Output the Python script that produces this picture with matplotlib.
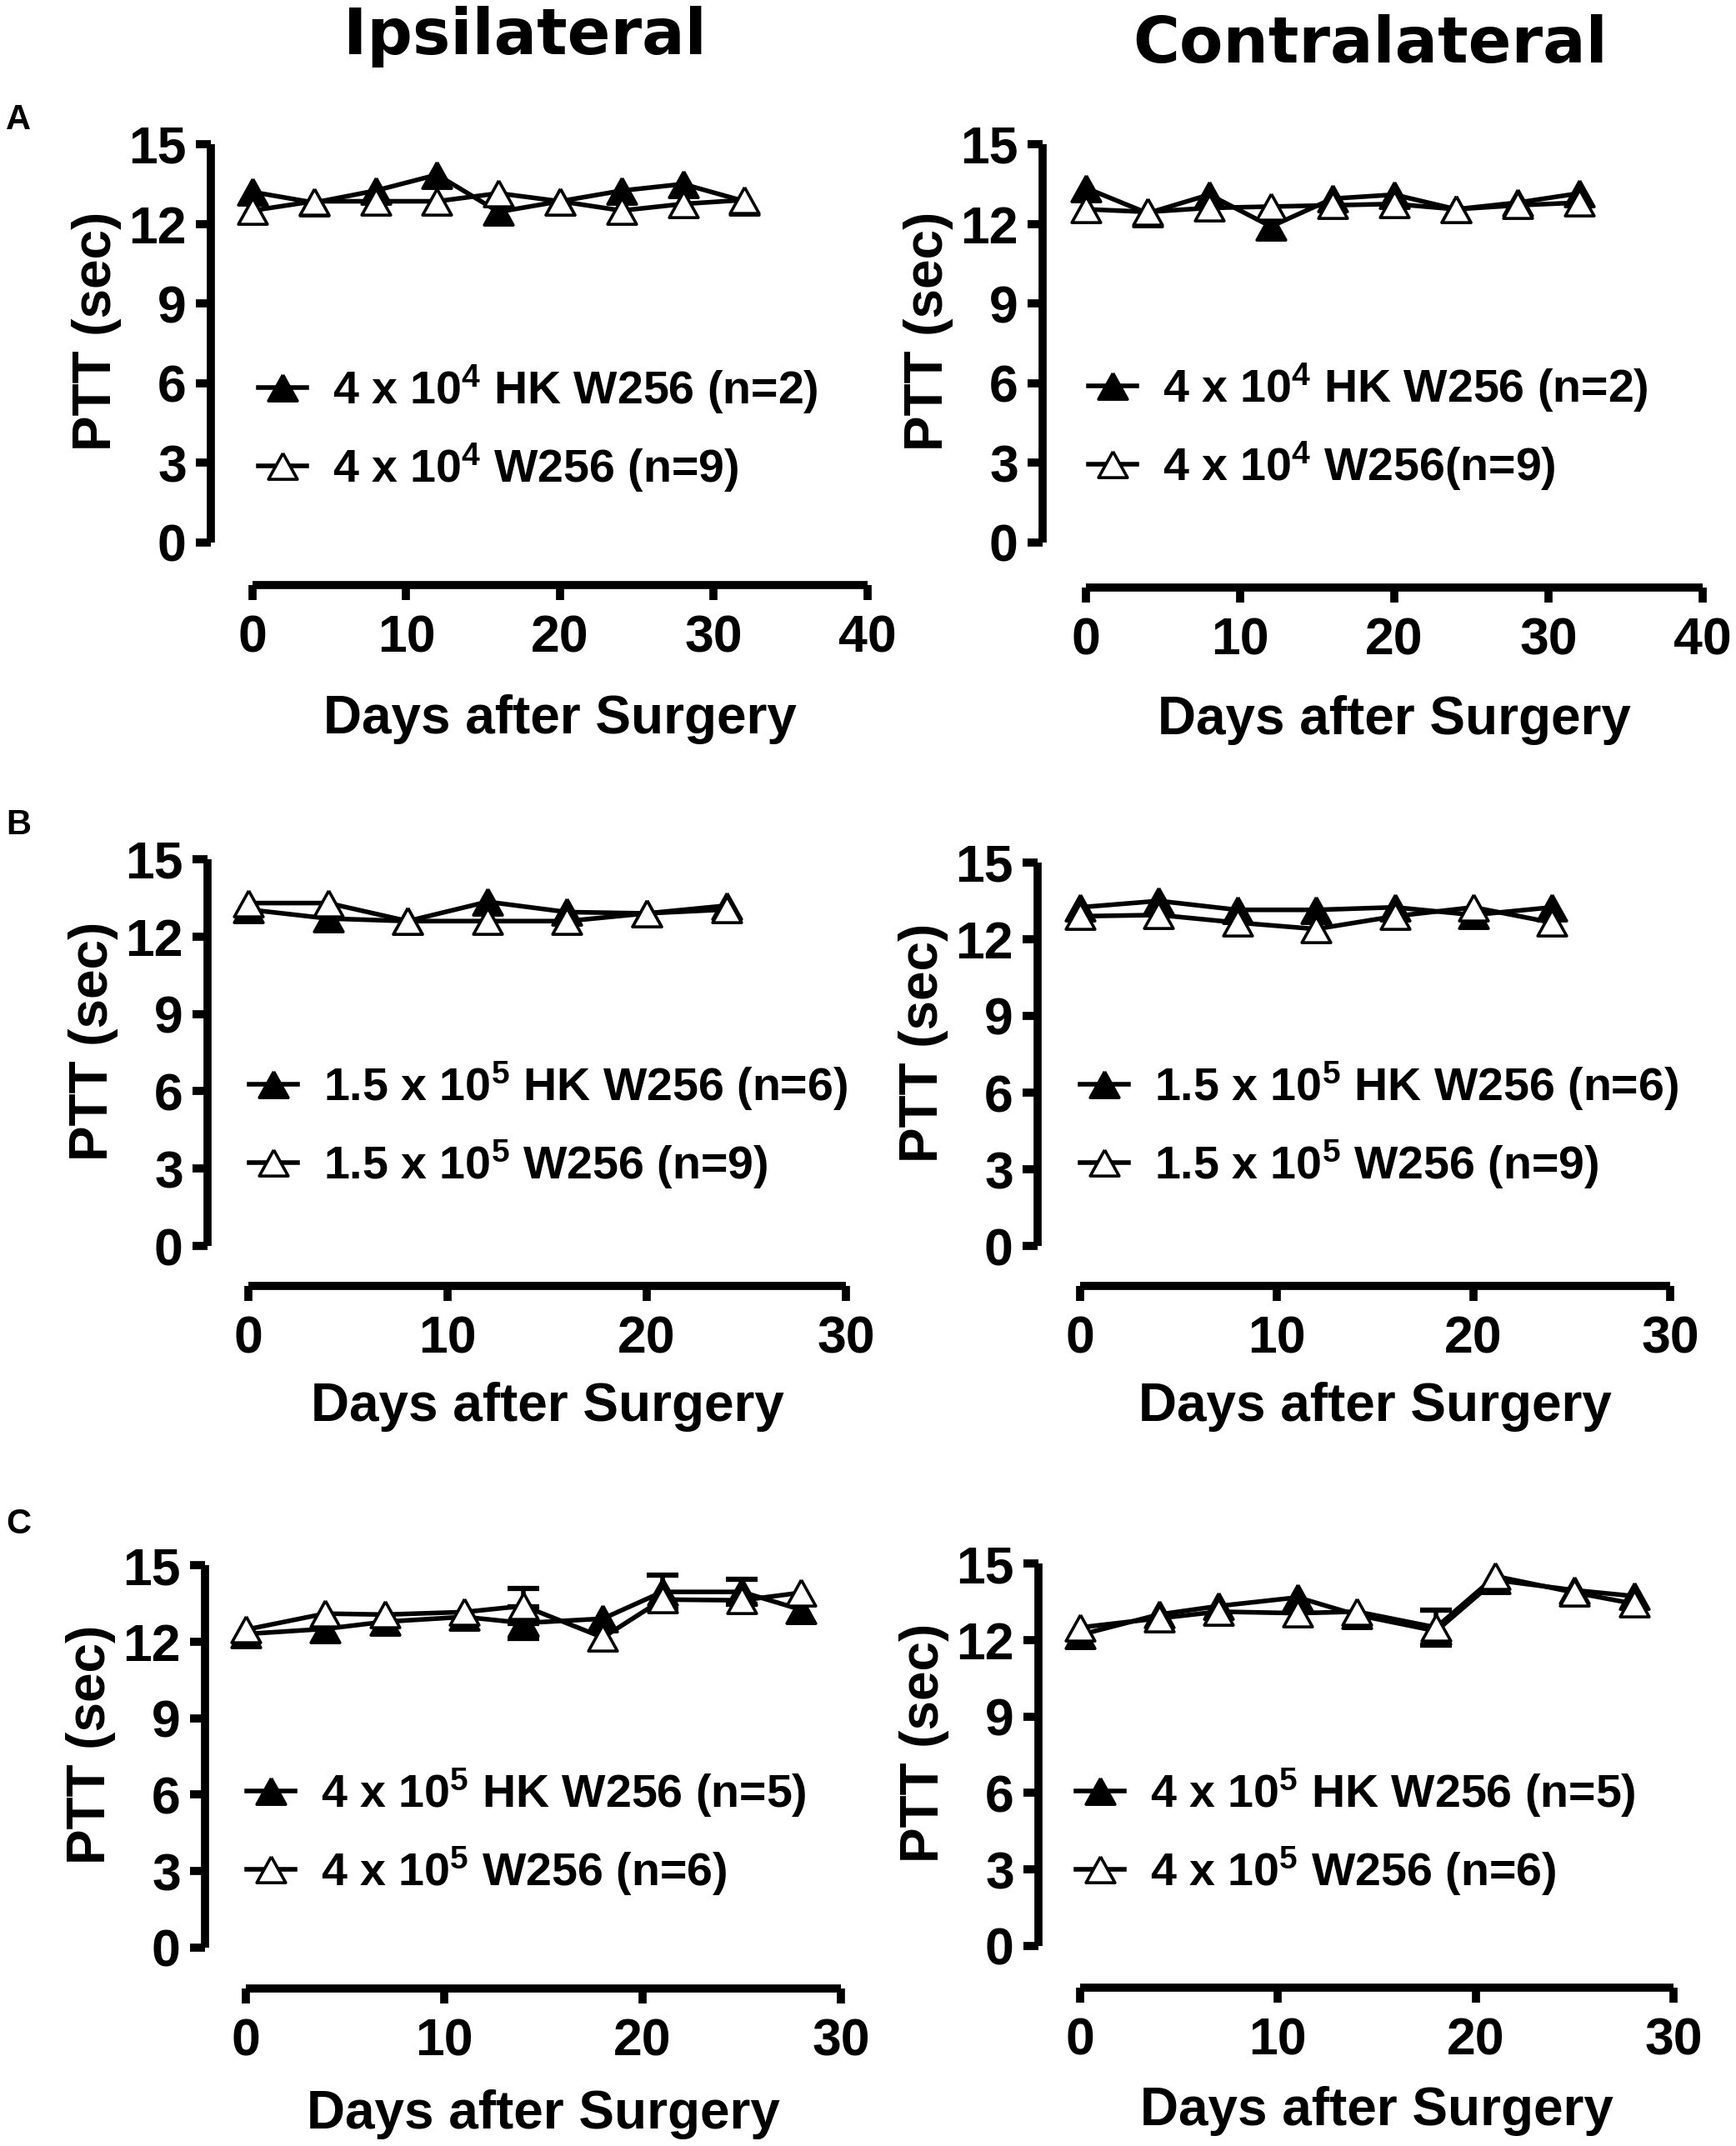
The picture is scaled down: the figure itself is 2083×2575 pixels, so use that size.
import matplotlib
matplotlib.use("Agg")
import matplotlib.pyplot as plt
import numpy as np

plt.rcParams['font.family'] = ['Liberation Sans', 'DejaVu Sans']
plt.rcParams['font.weight'] = 'bold'
plt.rcParams['mathtext.fontset'] = 'custom'
plt.rcParams['mathtext.rm'] = 'Liberation Sans:bold'
plt.rcParams['mathtext.bf'] = 'Liberation Sans:bold'
plt.rcParams['mathtext.default'] = 'bf'

# ---------------- data ----------------
days_A = [0, 4, 8, 12, 16, 20, 24, 28, 32]
days_B = [0, 4, 8, 12, 16, 20, 24]
days_C = [0, 4, 7, 11, 14, 18, 21, 25, 28]

A_ipsi_hk = [13.2, 12.8, 13.25, 13.85, 12.45, 12.85, 13.25, 13.5, 12.85]
A_ipsi_w = [12.5, 12.85, 12.85, 12.85, 13.15, 12.85, 12.5, 12.75, 12.9]
A_contra_hk = [13.35, 12.4, 13.1, 11.9, 12.95, 13.1, 12.55, 12.8, 13.15]
A_contra_w = [12.55, 12.45, 12.6, 12.65, 12.7, 12.75, 12.55, 12.7, 12.8]

B_ipsi_hk = [13.05, 12.7, 12.6, 13.35, 12.95, 12.9, 13.2]
B_ipsi_w = [13.3, 13.3, 12.6, 12.6, 12.6, 12.9, 13.05]
B_contra_hk = [13.25, 13.5, 13.15, 13.15, 13.25, 12.95, 13.25]
B_contra_w = [12.9, 12.95, 12.65, 12.4, 12.9, 13.25, 12.65]

C_ipsi_hk = [12.3, 12.5, 12.78, 12.97, 12.73, 12.9, 13.95, 13.95, 13.25]
C_ipsi_hk_err = [0, 0, 0, 0, 0.62, 0, 0.67, 0.5, 0]
C_ipsi_w = [12.47, 13.1, 13.06, 13.16, 13.4, 12.16, 13.65, 13.62, 13.92]
C_ipsi_w_err = [0, 0, 0, 0, 0.7, 0, 0, 0, 0]
C_contra_hk = [12.2, 13.0, 13.33, 13.67, 12.98, 12.35, 14.35, 13.95, 13.72]
C_contra_hk_err = [0, 0, 0, 0, 0, 0, 0, 0, 0]
C_contra_w = [12.49, 12.85, 13.11, 13.05, 13.11, 12.49, 14.5, 13.86, 13.42]
C_contra_w_err = [0, 0, 0, 0, 0, 0.68, 0, 0, 0]

labels_A_ipsi = [r"4 x 10$^{4}$ HK W256 (n=2)", r"4 x 10$^{4}$ W256 (n=9)"]
labels_A_contra = [r"4 x 10$^{4}$ HK W256 (n=2)", r"4 x 10$^{4}$ W256(n=9)"]
labels_B = [r"1.5 x 10$^{5}$ HK W256 (n=6)", r"1.5 x 10$^{5}$ W256 (n=9)"]
labels_C = [r"4 x 10$^{5}$ HK W256 (n=5)", r"4 x 10$^{5}$ W256 (n=6)"]

yticks = [0, 3, 6, 9, 12, 15]
xticks_A = [0, 10, 20, 30, 40]
xticks_BC = [0, 10, 20, 30]

# ---------------- layout (pixel geometry) ----------------
W, H = 2083, 2575
fig = plt.figure(figsize=(W / 100, H / 100), dpi=100)

FS_TICK = 45
FS_LAB = 46
FS_LEG = 40

tri = [(0, 0.9), (-1, -0.9), (1, -0.9), (0, 0.9)]


def draw_err(ax, x, y, err, z):
    xs = [a for a, e in zip(x, err) if e > 0]
    ys = [b for b, e in zip(y, err) if e > 0]
    es = [e for e in err if e > 0]
    if xs:
        eb = ax.errorbar(xs, ys, yerr=es, fmt='none', ecolor='black', elinewidth=4,
                         capsize=14, capthick=4.5, zorder=z)
        for art in list(eb[1]) + list(eb[2]):
            art.set_clip_on(False)


def panel(geom, x, hk, w, hk_err, w_err, xmax, xticks, labels, leg_px):
    left, x0, xr, top, y0, bottom = geom
    ax = fig.add_axes([left / W, 1 - bottom / H, (xr - left) / W, (bottom - top) / H])
    ax.patch.set_alpha(0)
    perx = (xr - x0) / xmax
    pery = (y0 - top) / 15.0
    ax.set_xlim(-(x0 - left) / perx, xmax)
    ax.set_ylim(-(bottom - y0) / pery, 15)
    for s in ['top', 'right']:
        ax.spines[s].set_visible(False)
    for s in ['left', 'bottom']:
        ax.spines[s].set_linewidth(7)
        ax.spines[s].set_capstyle('butt')
    ax.spines['left'].set_bounds(0, 15)
    ax.spines['bottom'].set_bounds(0, xmax)
    ax.set_yticks(yticks)
    ax.set_xticks(xticks)
    ax.tick_params(axis='both', which='major', length=13, width=7, direction='out',
                   labelsize=FS_TICK)
    ax.tick_params(axis='y', pad=8)
    ax.tick_params(axis='x', pad=12)
    for t in ax.get_xticklabels() + ax.get_yticklabels():
        t.set_fontweight('bold')

    common = dict(color='black', lw=4.0, marker=tri, ms=25, mew=2.6, mec='black',
                  clip_on=False)
    draw_err(ax, x, hk, hk_err, 2)
    l1, = ax.plot(x, hk, mfc='black', zorder=3, **common)
    draw_err(ax, x, w, w_err, 3.5)
    l2, = ax.plot(x, w, mfc='white', zorder=4, **common)

    lx, ly = leg_px
    ax.legend(handles=[l1, l2], labels=labels, loc='center left',
              bbox_to_anchor=((lx - left) / (xr - left), (bottom - ly) / (bottom - top)),
              frameon=False, handlelength=1.05, handletextpad=0.55,
              labelspacing=0.55, borderpad=0, borderaxespad=0, numpoints=1,
              prop={'weight': 'bold', 'size': FS_LEG})

    ax.set_xlabel("Days after Surgery", fontsize=FS_LAB, fontweight='bold')
    ax.set_ylabel("PTT (sec)", fontsize=FS_LAB, fontweight='bold')
    return ax, geom


def place_labels(ax, geom, xlab_base_off, ylab_off=137, ylab_data=7.95):
    left, x0, xr, top, y0, bottom = geom
    pery = (y0 - top) / 15.0
    xc = ((x0 + xr) / 2 - left) / (xr - left)
    yb = (bottom - (bottom + xlab_base_off)) / (bottom - top)
    ax.xaxis.set_label_coords(xc, yb)
    ax.xaxis.label.set_va('baseline')
    xl = (left - ylab_off - left) / (xr - left)
    yc = (bottom - (y0 - ylab_data * pery)) / (bottom - top)
    ax.yaxis.set_label_coords(xl, yc)
    ax.yaxis.label.set_va('center')


# geometry: (left spine, x0, xmax px, y15, y0, bottom spine)
gA1 = (253, 303, 1041, 173, 651, 702)
gA2 = (1251, 1303, 2043, 173, 651, 705)
gB1 = (249, 298, 1015, 1031, 1495, 1543)
gB2 = (1245, 1296, 2004, 1035, 1495, 1543)
gC1 = (246, 295, 1009, 1878, 2337, 2386)
gC2 = (1246, 1296, 2008, 1876, 2335, 2385)

z9 = [0] * 9
z7 = [0] * 7

ax, g = panel(gA1, days_A, A_ipsi_hk, A_ipsi_w, z9, z9, 40, xticks_A, labels_A_ipsi, (310, 514))
place_labels(ax, g, 178)
ax, g = panel(gA2, days_A, A_contra_hk, A_contra_w, z9, z9, 40, xticks_A, labels_A_contra, (1306, 512))
place_labels(ax, g, 176)
ax, g = panel(gB1, days_B, B_ipsi_hk, B_ipsi_w, z7, z7, 30, xticks_BC, labels_B, (299, 1350))
place_labels(ax, g, 162)
ax, g = panel(gB2, days_B, B_contra_hk, B_contra_w, z7, z7, 30, xticks_BC, labels_B, (1296, 1350))
place_labels(ax, g, 162)
ax, g = panel(gC1, days_C, C_ipsi_hk, C_ipsi_w, C_ipsi_hk_err, C_ipsi_w_err, 30, xticks_BC, labels_C, (296, 2198))
place_labels(ax, g, 168)
ax, g = panel(gC2, days_C, C_contra_hk, C_contra_w, C_contra_hk_err, C_contra_w_err, 30, xticks_BC, labels_C, (1291, 2198))
place_labels(ax, g, 165)

# column titles
fig.text(630 / W, 1 - 65 / H, "Ipsilateral", family='DejaVu Sans', fontweight='bold',
         fontsize=55, ha='center', va='baseline')
fig.text(1644 / W, 1 - 75 / H, "Contralateral", family='DejaVu Sans', fontweight='bold',
         fontsize=55, ha='center', va='baseline')

# panel letters
for letter, yp in [("A", 155), ("B", 1001), ("C", 1840)]:
    fig.text(7 / W, 1 - yp / H, letter, fontsize=30, fontweight='bold', ha='left', va='baseline')

fig.savefig("out.png", dpi=100)
